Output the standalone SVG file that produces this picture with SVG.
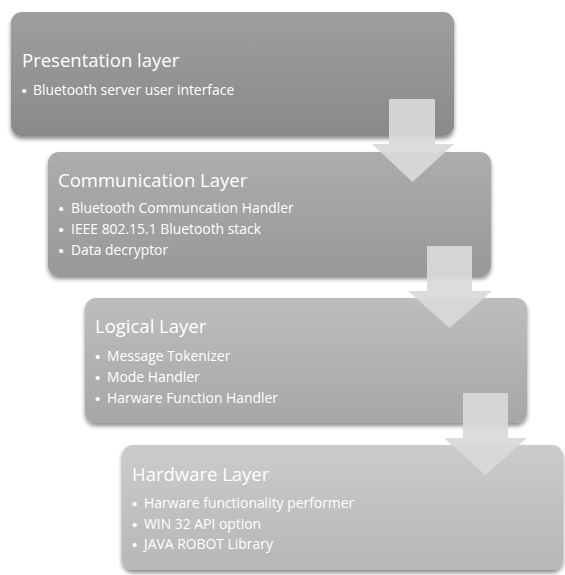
<svg xmlns="http://www.w3.org/2000/svg" width="565" height="575" viewBox="0 0 565 575">
  <defs>
    <linearGradient id="g1" x1="0" y1="0" x2="0" y2="1">
      <stop offset="0" stop-color="#9e9e9e"/>
      <stop offset="1" stop-color="#8a8a8a"/>
    </linearGradient>
    <linearGradient id="g2" x1="0" y1="0" x2="0" y2="1">
      <stop offset="0" stop-color="#adadad"/>
      <stop offset="1" stop-color="#989898"/>
    </linearGradient>
    <linearGradient id="g3" x1="0" y1="0" x2="0" y2="1">
      <stop offset="0" stop-color="#bdbdbd"/>
      <stop offset="1" stop-color="#a7a7a7"/>
    </linearGradient>
    <linearGradient id="g4" x1="0" y1="0" x2="0" y2="1">
      <stop offset="0" stop-color="#cbcbcb"/>
      <stop offset="1" stop-color="#b7b7b7"/>
    </linearGradient>
    <filter id="shadow" x="-5%" y="-10%" width="110%" height="125%">
      <feDropShadow dx="0" dy="3" stdDeviation="2.2" flood-color="#000" flood-opacity="0.45"/>
    </filter>
  </defs>
  <style>
    .box { filter: url(#shadow); }
    .title { font-family: "Open Sans", "Liberation Sans", sans-serif; font-size: 18.5px; fill: #ffffff; }
    .item { font-family: "Open Sans", "Liberation Sans", sans-serif; font-size: 13.9px; fill: #ffffff; }
    .bullet { font-family: "Liberation Sans", sans-serif; font-size: 15px; fill: #ffffff; }
    .arrow { fill: #d9d9d9; fill-opacity: 0.93; }
  </style>

  <rect width="565" height="575" fill="#ffffff"/>

  <g id="presentation-layer">
    <rect class="box" x="11" y="12" width="443" height="124" rx="11" fill="url(#g1)"/>
    <text class="title" x="22" y="67">Presentation layer</text>
    <text class="bullet" x="21.5" y="95.5">•</text>
    <text class="item" x="33" y="95">Bluetooth server user interface</text>
  </g>

  <g id="communication-layer">
    <rect class="box" x="48" y="152" width="443" height="124" rx="11" fill="url(#g2)"/>
    <text class="title" x="58" y="187">Communication Layer</text>
    <text class="bullet" x="58.5" y="213.5">•</text>
    <text class="item" x="71" y="213">Bluetooth Communcation Handler</text>
    <text class="bullet" x="58.5" y="234.5">•</text>
    <text class="item" x="71" y="234">IEEE 802.15.1 Bluetooth stack</text>
    <text class="bullet" x="58.5" y="255.5">•</text>
    <text class="item" x="71" y="255">Data decryptor</text>
  </g>

  <g id="logical-layer">
    <rect class="box" x="85" y="298" width="442" height="125" rx="11" fill="url(#g3)"/>
    <text class="title" x="95" y="333">Logical Layer</text>
    <text class="bullet" x="95" y="361.5">•</text>
    <text class="item" x="107" y="361">Message Tokenizer</text>
    <text class="bullet" x="95" y="382.5">•</text>
    <text class="item" x="107" y="382">Mode Handler</text>
    <text class="bullet" x="95" y="403.5">•</text>
    <text class="item" x="107" y="403">Harware Function Handler</text>
  </g>

  <g id="hardware-layer">
    <rect class="box" x="122" y="445" width="441" height="125" rx="11" fill="url(#g4)"/>
    <text class="title" x="132" y="481">Hardware Layer</text>
    <text class="bullet" x="132" y="508.5">•</text>
    <text class="item" x="144" y="508">Harware functionality performer</text>
    <text class="bullet" x="132" y="529.5">•</text>
    <text class="item" x="144" y="529">WIN 32 API option</text>
    <text class="bullet" x="132" y="549.5">•</text>
    <text class="item" x="144" y="549">JAVA ROBOT Library</text>
  </g>

  <g id="connectors">
    <path class="arrow" d="M389 99 H435 V144 H454 L412.5 182 L372 144 H389 Z"/>
    <path class="arrow" d="M427 246 H472 V291 H492 L449.5 328 L408 291 H427 Z"/>
    <path class="arrow" d="M463 393 H508 V438 H527 L485.5 475 L444 438 H463 Z"/>
  </g>
</svg>
